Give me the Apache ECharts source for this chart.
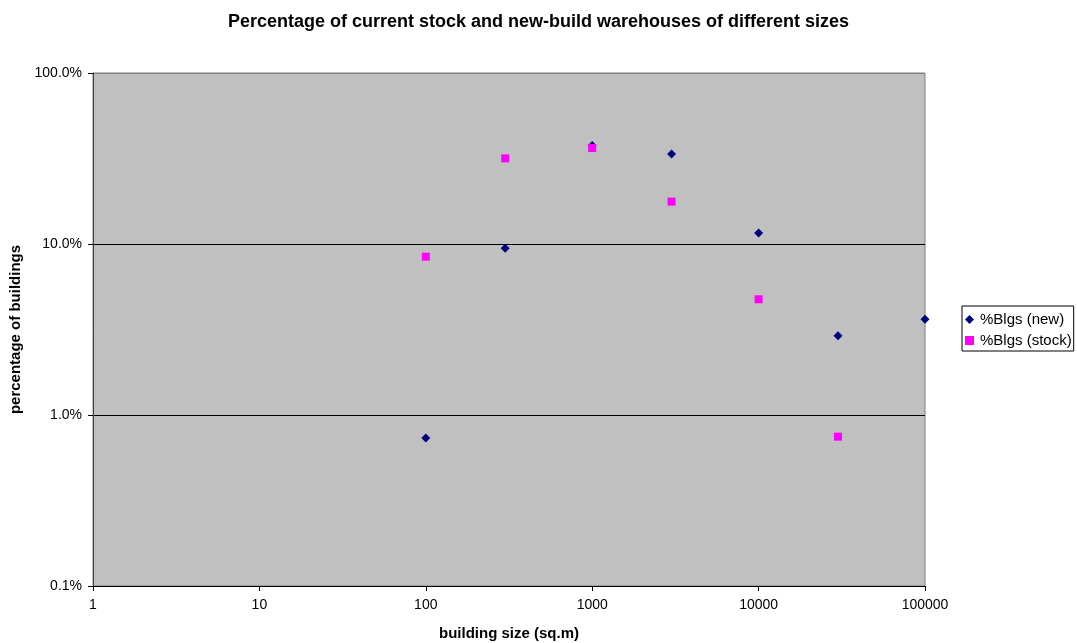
<!DOCTYPE html>
<html>
<head>
<meta charset="utf-8">
<script src="https://cdn.jsdelivr.net/npm/echarts@6/dist/echarts.min.js"></script>
<style>html,body{margin:0;padding:0;background:#fff;}#c{width:1077px;height:643px;}</style>
</head>
<body>
<div id="c"></div>
<script>
const sizes = [100, 300, 1000, 3000, 10000, 30000, 100000];
const pctNew = [0.734, 9.44, 37.7, 33.6, 11.6, 2.91, 3.63];
const sizesStock = [100, 300, 1000, 3000, 10000, 30000];
const pctStock = [8.43, 31.7, 36.4, 17.7, 4.75, 0.747];
const seriesNames = ['%Blgs (new)', '%Blgs (stock)'];
const titleText = 'Percentage of current stock and new-build warehouses of different sizes';
const xName = 'building size (sq.m)';
const yName = 'percentage of buildings';

const chart = echarts.init(document.getElementById('c'));
const font = 'Liberation Sans, Arial, sans-serif';
chart.setOption({
  animation: false,
  backgroundColor: '#ffffff',
  title: {
    text: titleText, left: 'center', top: 8,
    textStyle: { fontFamily: font, fontSize: 18, fontWeight: 'bold', color: '#000' }
  },
  legend: {
    orient: 'vertical', left: 962, top: 306,
    borderColor: '#000', borderWidth: 1, padding: [6, 2, 3, 3],
    itemGap: 6, itemWidth: 9, itemHeight: 9,
    textStyle: { fontFamily: font, fontSize: 15, color: '#000', padding: [0, 0, 0, 1] },
    data: [{ name: seriesNames[0], icon: 'diamond' }, { name: seriesNames[1], icon: 'rect' }]
  },
  grid: {
    left: 93, right: 152, top: 73, bottom: 57,
    containLabel: false, outerBoundsMode: 'none',
    show: true, backgroundColor: '#C0C0C0', borderColor: '#808080', borderWidth: 1
  },
  xAxis: {
    type: 'log', logBase: 10, min: 1, max: 100000,
    name: xName, nameLocation: 'middle', nameGap: 40,
    nameTextStyle: { fontFamily: font, fontSize: 15, fontWeight: 'bold', color: '#000' },
    axisLine: { show: true, onZero: false, lineStyle: { color: '#000', width: 1 } },
    axisTick: { show: true, inside: false, length: 5, lineStyle: { color: '#000' } },
    minorTick: { show: false },
    axisLabel: { fontFamily: font, fontSize: 14, color: '#000', margin: 12, formatter: v => String(v) },
    splitLine: { show: false }
  },
  yAxis: {
    type: 'log', logBase: 10, min: 0.1, max: 100,
    name: yName, nameLocation: 'middle', nameGap: 68, nameRotate: 90,
    nameTextStyle: { fontFamily: font, fontSize: 15, fontWeight: 'bold', color: '#000' },
    axisLine: { show: true, lineStyle: { color: '#404040', width: 1 } },
    axisTick: { show: true, inside: false, length: 5, lineStyle: { color: '#000' } },
    axisLabel: { fontFamily: font, fontSize: 14, color: '#000', margin: 11,
      formatter: v => v.toFixed(1) + '%' },
    splitLine: { show: true, lineStyle: { color: ['#000000', '#000000', '#000000', '#808080'], width: 1 } }
  },
  series: [
    {
      name: seriesNames[0], type: 'scatter', symbol: 'diamond', symbolSize: 9,
      itemStyle: { color: '#000080', opacity: 1 },
      data: sizes.map((s, i) => [s, pctNew[i]]), z: 3
    },
    {
      name: seriesNames[1], type: 'scatter', symbol: 'rect', symbolSize: 8,
      itemStyle: { color: '#FF00FF', opacity: 1 },
      data: sizesStock.map((s, i) => [s, pctStock[i]]), z: 4
    }
  ]
});
</script>
</body>
</html>
